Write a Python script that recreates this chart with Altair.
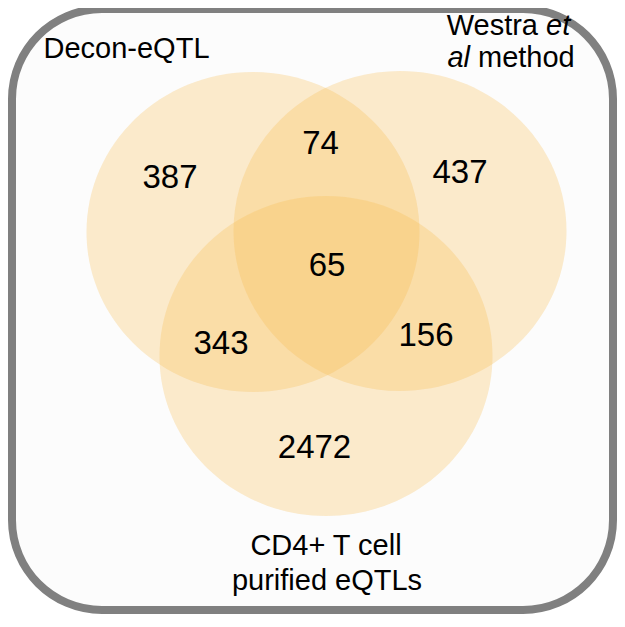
import altair as alt
import pandas as pd

# ---- data -------------------------------------------------------------
set_names = ["Decon-eQTL", "Westra et al method", "CD4+ T cell purified eQTLs"]
region_names = ["Decon only", "Decon & Westra", "Westra only", "Decon & CD4+",
                "all three", "Westra & CD4+", "CD4+ only"]
region_counts = [387, 74, 437, 343, 65, 156, 2472]

# label pieces (text, font style)
label_text = ["Decon-eQTL", "Westra", "et", "al", "method", "CD4+ T cell", "purified eQTLs"]
label_style = ["normal", "normal", "italic", "italic", "normal", "normal", "normal"]

# ---- layout (reference pixel coordinates) -----------------------------
circle_cx = [253, 400, 326]
circle_cy = [232, 231, 356]
RX, RY = 166.5, 160.0
count_x = [170, 320.5, 460, 221, 327, 426, 314.5]
count_y = [188, 154, 183, 354, 276, 346, 458]
label_x = [126.5, 538, 546, 470, 478, 326, 327]
label_y = [58, 35, 35, 67, 67, 555, 590]
label_align = ["center", "right", "left", "right", "left", "center", "center"]

W, H = 609, 606
FONT = "Liberation Sans"
# page pixel = reference pixel (page margin is 8px)
xs = alt.Scale(domain=[8, 8 + W], range=[0, W])
ys = alt.Scale(domain=[8, 8 + H], range=[0, H])

circles = pd.DataFrame({"set": set_names, "cx": circle_cx, "cy": circle_cy})
counts = pd.DataFrame({"region": region_names, "n": region_counts,
                       "x": count_x, "y": count_y})
labels = pd.DataFrame({"text": label_text, "style": label_style,
                       "x": label_x, "y": label_y, "align": label_align})

ratio = RY / RX
ellipse = f"M-1,0A1,{ratio:.4f} 0 1,0 1,0A1,{ratio:.4f} 0 1,0 -1,0Z"

frame = alt.Chart(pd.DataFrame({"k": [0]})).mark_rect(
    cornerRadius=90, fill="#fcfcfc", stroke="#808080", strokeWidth=8
).encode(
    x=alt.value(4), x2=alt.value(W - 4),
    y=alt.value(1), y2=alt.value(H - 4),
)

circ = alt.Chart(circles).mark_point(
    shape=ellipse, filled=True, size=(2 * RX) ** 2, color="#F8BC4A",
    opacity=0.28, strokeWidth=0,
).encode(
    x=alt.X("cx:Q", scale=xs, axis=None),
    y=alt.Y("cy:Q", scale=ys, axis=None),
)

nums = alt.Chart(counts).mark_text(
    font=FONT, fontSize=33, color="black", align="center", baseline="alphabetic"
).encode(
    x=alt.X("x:Q", scale=xs, axis=None),
    y=alt.Y("y:Q", scale=ys, axis=None),
    text="n:Q",
)

label_layers = []
for al in ["center", "left", "right"]:
    for st in ["normal", "italic"]:
        sub = labels[(labels["align"] == al) & (labels["style"] == st)]
        if len(sub) == 0:
            continue
        label_layers.append(
            alt.Chart(sub).mark_text(
                font=FONT, fontSize=29, color="black", align=al,
                baseline="alphabetic", fontStyle=st,
            ).encode(
                x=alt.X("x:Q", scale=xs, axis=None),
                y=alt.Y("y:Q", scale=ys, axis=None),
                text="text:N",
            )
        )

chart = alt.layer(frame, circ, nums, *label_layers).properties(
    width=W, height=H, padding=0, autosize=alt.AutoSizeParams(type="none"),
    background="white",
).configure_view(stroke=None)

chart.save("out.html", embed_options={"renderer": "svg", "actions": False})
